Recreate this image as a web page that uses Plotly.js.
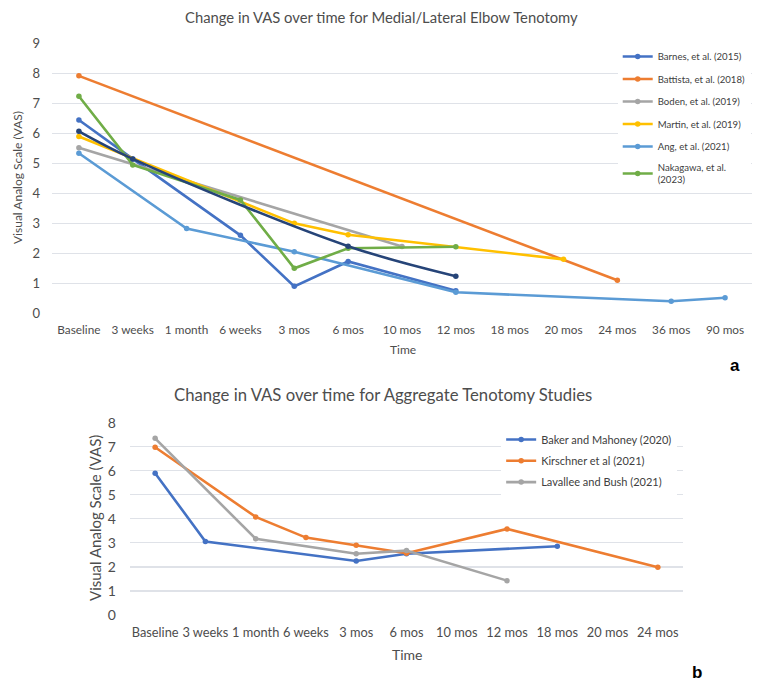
<!DOCTYPE html>
<html>
<head>
<meta charset="utf-8">
<script src="https://cdn.plot.ly/plotly-3.0.1.min.js"></script>
<style>html,body{margin:0;padding:0;background:#fff;}#chart{width:777px;height:688px;}</style>
</head>
<body>
<div id="chart"></div>
<script>
// ---- Panel a: Medial/Lateral Elbow Tenotomy ----
const catsA = ['Baseline','3 weeks','1 month','6 weeks','3 mos','6 mos','10 mos','12 mos','18 mos','20 mos','24 mos','36 mos','90 mos'];
const barnes   = [6.45, 5.15, null, 2.60, 0.90, 1.73, null, 0.75, null, null, null, null, null];
const battista = [7.92, null, null, null, null, null, null, null, null, null, 1.10, null, null];
const boden    = [5.52, null, null, null, null, null, 2.23, null, null, null, null, null, null];
const martin   = [5.90, null, null, null, 3.00, 2.62, null, null, null, 1.80, null, null, null];
const ang      = [5.34, null, 2.83, null, 2.05, null, null, 0.70, null, null, null, 0.40, 0.52];
const nakagawa = [7.24, 4.95, null, 3.78, 1.50, 2.17, null, 2.22, null, null, null, null, null];
const series7  = [6.07, 5.15, null, null, null, 2.24, null, 1.24, null, null, null, null, null];
const namesA = ['Barnes, et al. (2015)','Battista, et al. (2018)','Boden, et al. (2019)','Martin, et al. (2019)','Ang, et al. (2021)','Nakagawa, et al.<br>(2023)'];

// ---- Panel b: Aggregate Tenotomy Studies ----
const catsB = ['Baseline','3 weeks','1 month','6 weeks','3 mos','6 mos','10 mos','12 mos','18 mos','20 mos','24 mos'];
const baker     = [5.90, 3.06, null, null, 2.25, 2.55, null, null, 2.86, null, null];
const kirschner = [6.98, null, 4.08, 3.22, 2.90, 2.57, null, 3.58, null, null, 1.99];
const lavallee  = [7.35, null, 3.17, null, 2.55, 2.68, null, 1.43, null, null, null];
const namesB = ['Baker and Mahoney (2020)','Kirschner et al (2021)','Lavallee and Bush (2021)'];

const C = {blue:'#4472C4', orange:'#ED7D31', gray:'#A5A5A5', gold:'#FFC000', lblue:'#5B9BD5', green:'#70AD47', navy:'#264478'};
const FONT = 'Lato, Carlito, "Liberation Sans", sans-serif';

function tr(x, y, name, color, xa, ya, legend, show, shape) {
  return {
    type:'scatter', mode:'lines+markers', x:x, y:y, name:name, legendgroup:name,
    xaxis:xa, yaxis:ya, legend:legend, showlegend:show, connectgaps:true,
    line:{color:color, width:2.6, shape:shape||'linear', smoothing:1},
    marker:{color:color, size:5.5}
  };
}

const data = [
  tr(catsA, barnes,   namesA[0], C.blue,   'x','y','legend',true),
  tr(catsA, battista, namesA[1], C.orange, 'x','y','legend',true),
  tr(catsA, boden,    namesA[2], C.gray,   'x','y','legend',true),
  tr(catsA, martin,   namesA[3], C.gold,   'x','y','legend',true),
  tr(catsA, ang,      namesA[4], C.lblue,  'x','y','legend',true),
  tr(catsA, nakagawa, namesA[5], C.green,  'x','y','legend',true),
  tr(catsA, series7,  'Series 7', C.navy,  'x','y','legend',false,'spline'),
  tr(catsB, baker,     namesB[0], C.blue,   'x2','y2','legend2',true),
  tr(catsB, kirschner, namesB[1], C.orange, 'x2','y2','legend2',true),
  tr(catsB, lavallee,  namesB[2], C.gray,   'x2','y2','legend2',true)
];

const tickc = '#4d4d4d';
const grid = '#DFE2E8';
const layout = {
  width:777, height:688,
  margin:{l:0,r:0,t:0,b:0},
  paper_bgcolor:'#fff', plot_bgcolor:'#fff',
  font:{family:FONT, color:tickc},
  showlegend:true,
  xaxis:{domain:[0.0669,0.9678], anchor:'y', type:'category', categoryorder:'array', categoryarray:catsA,
         range:[-0.5,12.5], showgrid:false, zeroline:false, showline:false, ticks:'', ticklabelstandoff:8, tickangle:0,
         tickfont:{size:11.8, color:tickc, family:FONT}, fixedrange:true},
  yaxis:{domain:[0.5446,0.9368], anchor:'x', range:[0,9], dtick:1, showgrid:true, gridcolor:grid, gridwidth:1.2,
         zeroline:false, showline:false, ticks:'', ticklabelstandoff:11, tickfont:{size:13, color:tickc, family:FONT}, fixedrange:true},
  xaxis2:{domain:[0.1673,0.879], anchor:'y2', type:'category', categoryorder:'array', categoryarray:catsB,
         range:[-0.5,10.5], showgrid:false, zeroline:false, showline:false, ticks:'', ticklabelstandoff:8, tickangle:0,
         tickfont:{size:12.8, color:tickc, family:FONT}, fixedrange:true},
  yaxis2:{domain:[0.1061,0.3856], anchor:'x2', range:[0,8], dtick:1, showgrid:true, gridcolor:grid, gridwidth:1.2,
         zeroline:false, showline:false, ticks:'', ticklabelstandoff:13, tickfont:{size:14, color:tickc, family:FONT}, fixedrange:true},
  legend:{x:0.795, y:1-42/688, xanchor:'left', yanchor:'top', bgcolor:'#fff', borderwidth:0,
          font:{size:9.6, color:'#404040', family:FONT}, itemwidth:30, tracegroupgap:3.5, traceorder:'grouped'},
  legend2:{x:0.645, y:1-425/688, xanchor:'left', yanchor:'top', bgcolor:'#fff', borderwidth:0,
          font:{size:11, color:'#404040', family:FONT}, itemwidth:30, tracegroupgap:2.3, traceorder:'grouped'},
  annotations:[
    {text:'Change in VAS over time for Medial/Lateral Elbow Tenotomy', xref:'paper', yref:'paper', x:381/777, y:1-17/688,
     showarrow:false, xanchor:'center', yanchor:'middle', font:{size:14.8, color:tickc, family:FONT}},
    {text:'Time', xref:'paper', yref:'paper', x:403/777, y:1-349/688, showarrow:false, xanchor:'center', yanchor:'middle',
     font:{size:12, color:tickc, family:FONT}},
    {text:'Visual Analog Scale (VAS)', xref:'paper', yref:'paper', x:17/777, y:1-178/688, showarrow:false, textangle:-90,
     xanchor:'center', yanchor:'middle', font:{size:12, color:tickc, family:FONT}},
    {text:'<b>a</b>', xref:'paper', yref:'paper', x:735/777, y:1-365/688, showarrow:false, xanchor:'center', yanchor:'middle',
     font:{size:17, color:'#000', family:'"Liberation Sans", Arial, sans-serif'}},
    {text:'Change in VAS over time for Aggregate Tenotomy Studies', xref:'paper', yref:'paper', x:383/777, y:1-395/688,
     showarrow:false, xanchor:'center', yanchor:'middle', font:{size:16.7, color:tickc, family:FONT}},
    {text:'Time', xref:'paper', yref:'paper', x:407/777, y:1-654/688, showarrow:false, xanchor:'center', yanchor:'middle',
     font:{size:14, color:tickc, family:FONT}},
    {text:'Visual Analog Scale (VAS)', xref:'paper', yref:'paper', x:95/777, y:1-518/688, showarrow:false, textangle:-90,
     xanchor:'center', yanchor:'middle', font:{size:15, color:tickc, family:FONT}},
    {text:'<b>b</b>', xref:'paper', yref:'paper', x:697/777, y:1-672/688, showarrow:false, xanchor:'center', yanchor:'middle',
     font:{size:17, color:'#000', family:'"Liberation Sans", Arial, sans-serif'}}
  ]
};

Plotly.newPlot('chart', data, layout, {displayModeBar:false, staticPlot:true});
</script>
</body>
</html>
